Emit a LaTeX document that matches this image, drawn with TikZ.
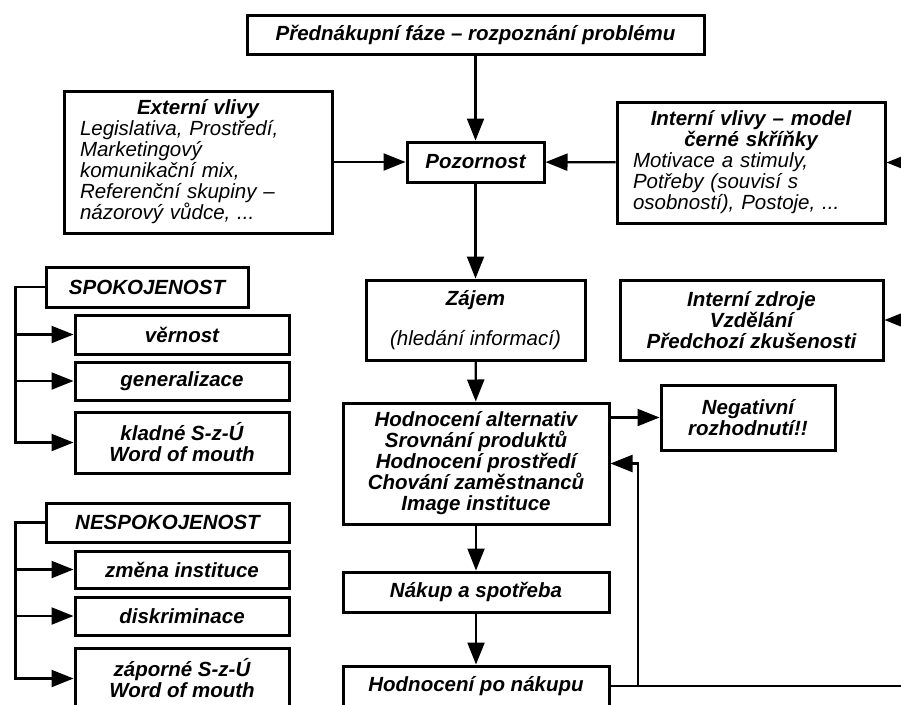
\documentclass[tikz,border=0pt]{standalone}
\usepackage{fontspec}
\setmainfont{Liberation Sans}
\usetikzlibrary{arrows.meta}
\begin{document}
\begin{tikzpicture}[x=1pt,y=-1pt,
  box/.style={draw, line width=3pt, inner sep=0pt, font=\fontsize{20.5}{21}\selectfont\bfseries\itshape, align=center},
  arr/.style={line width=2.2pt, -{Triangle[length=22pt,width=17pt]}},
  ln/.style={line width=2.2pt}]
\useasboundingbox (0,0) rectangle (901,704);
\clip (0,0) rectangle (901,704);
% centre column
\node[box, minimum width=457pt, minimum height=39pt] (top) at (475.5,34.5) {Přednákupní fáze – rozpoznání problému};
\node[box, minimum width=137pt, minimum height=40pt] (poz) at (475.5,162) {Pozornost};
\node[box, minimum width=219pt, minimum height=80pt] (zaj) at (475.5,320) {Zájem\\[19pt]{\mdseries (hledání informací)}};
\node[box, minimum width=266pt, minimum height=121pt] (hod) at (476,463.5) {Hodnocení alternativ\\Srovnání produktů\\Hodnocení prostředí\\Chování zaměstnanců\\Image instituce};
\node[box, minimum width=266pt, minimum height=40pt] (nak) at (476,592) {Nákup a spotřeba};
\node[box, minimum width=266pt, minimum height=40pt] (hpn) at (476,686) {Hodnocení po nákupu};
% influences
\node[box, minimum width=268pt, minimum height=142pt, text width=236pt, inner xsep=16pt, align=left] (ext) at (198,162)
  {\centering Externí vlivy\par\raggedright\mdseries Legislativa, Prostředí,\\Marketingový\\komunikační mix,\\Referenční skupiny –\\názorový vůdce, ...};
\node[box, minimum width=268pt, minimum height=121pt, text width=236pt, inner xsep=16pt, align=left] (intv) at (751,162.5)
  {\centering Interní vlivy – model\\černé skříňky\par\raggedright\mdseries Motivace a stimuly,\\Potřeby (souvisí s\\osobností), Postoje, ...};
\node[box, minimum width=263pt, minimum height=80pt] (intz) at (751.5,320) {Interní zdroje\\Vzdělání\\Předchozí zkušenosti};
\node[box, minimum width=174pt, minimum height=65pt] (neg) at (748,417.5) {Negativní\\rozhodnutí!!};
% left groups
\node[box, minimum width=202pt, minimum height=40pt] (spok) at (147,287) {SPOKOJENOST};
\node[box, minimum width=214pt, minimum height=39pt] (vern) at (182,334.5) {věrnost};
\node[box, minimum width=214pt, minimum height=38pt] (gen) at (182,381) {generalizace};
\node[box, minimum width=214pt, minimum height=61pt] (klad) at (182,442.5) {kladné S-z-Ú\\Word of mouth};
\node[box, minimum width=243pt, minimum height=39pt] (nesp) at (167.5,522.5) {NESPOKOJENOST};
\node[box, minimum width=214pt, minimum height=37pt] (zmen) at (182,569.5) {změna instituce};
\node[box, minimum width=214pt, minimum height=38pt] (disk) at (182,616) {diskriminace};
\node[box, minimum width=214pt, minimum height=61pt] (zap) at (182,678.5) {záporné S-z-Ú\\Word of mouth};
% helper coordinates
\coordinate (spx) at (15.5,287);
\coordinate (nsx) at (15.5,522.5);
\coordinate (r1) at (935,162.5);
\coordinate (r2) at (935,320);
\coordinate (r3) at (935,686);
\coordinate (fb) at (638,686);
% connectors
\draw[arr] (top) -- (poz);
\draw[arr] (ext) -- (poz);
\draw[arr] (intv) -- (poz);
\draw[arr] (r1) -- (intv);
\draw[arr] (r2) -- (intz);
\draw[arr] (poz) -- (zaj);
\draw[arr] (zaj) -- (hod);
\draw[arr] (hod.east |- neg.west) -- (neg.west);
\draw[arr] (hod) -- (nak);
\draw[arr] (nak) -- (hpn);
\draw[ln] (hpn.east) -- (r3);
\draw[arr] (fb) |- (hod.east);
\draw[arr] (spok.west) -- (spx) |- (klad.west);
\draw[arr] (spx |- vern.west) -- (vern.west);
\draw[arr] (spx |- gen.west) -- (gen.west);
\draw[arr] (nesp.west) -- (nsx) |- (zap.west);
\draw[arr] (nsx |- zmen.west) -- (zmen.west);
\draw[arr] (nsx |- disk.west) -- (disk.west);
\end{tikzpicture}
\end{document}
